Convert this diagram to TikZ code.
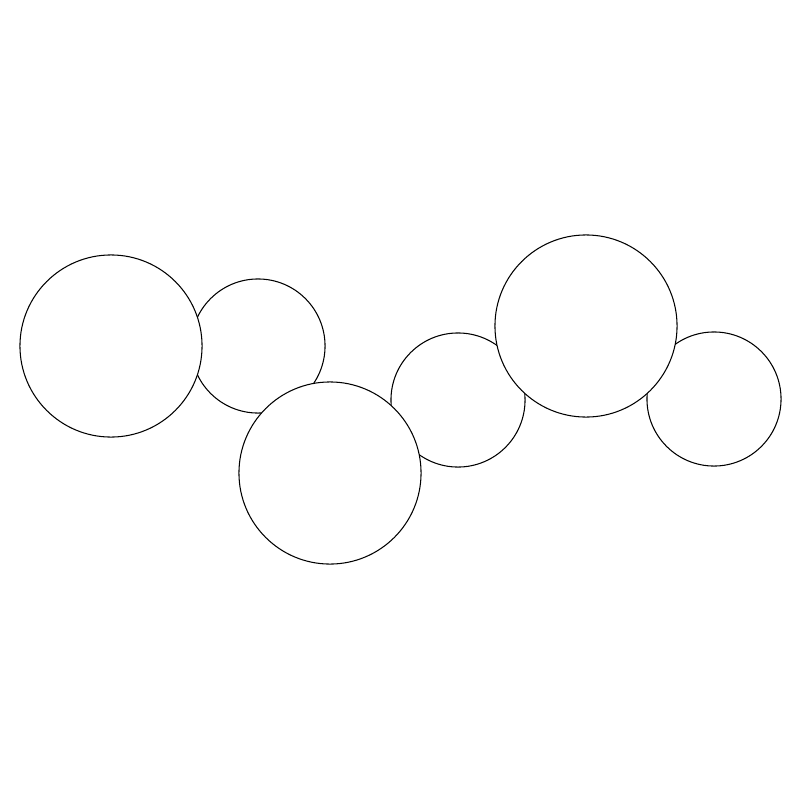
\documentclass[tikz,border=0pt]{standalone}
\begin{document}
\begin{tikzpicture}[x=0.01cm,y=-0.01cm,
  bubble/.style={circle,draw=black,fill=white,line width=0.3pt,inner sep=0pt},
  big/.style={bubble,minimum size=1.82cm},
  small/.style={bubble,minimum size=1.34cm}]
\useasboundingbox (0,0) rectangle (800,800);
\node[small] (c2) at (258,346) {};
\node[small] (c4) at (458,400) {};
\node[small] (c6) at (714,399) {};
\node[big] (c1) at (111,346) {};
\node[big] (c3) at (330,473) {};
\node[big] (c5) at (586,326) {};
\end{tikzpicture}
\end{document}
